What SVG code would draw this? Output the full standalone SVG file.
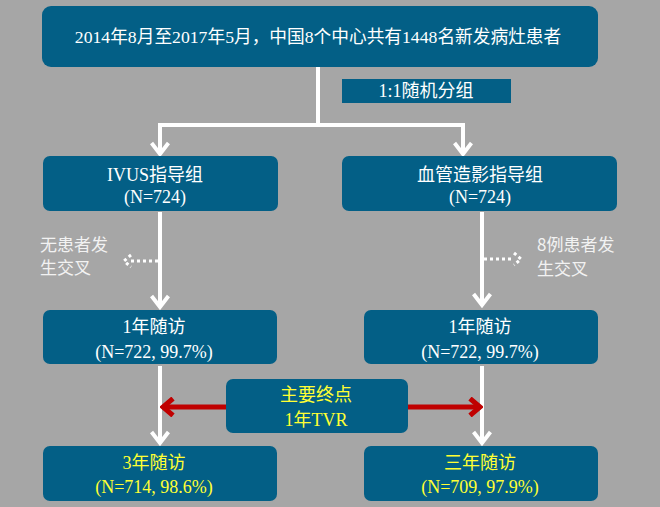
<svg xmlns="http://www.w3.org/2000/svg" width="660" height="507" viewBox="0 0 660 507">
<style>
.box{fill:#035f86;}
.t{font-family:"Liberation Serif","Noto Sans CJK SC",serif;font-size:18px;fill:#ffffff;text-anchor:middle;}
.y{fill:#ffff33;}
.side{font-family:"Noto Sans CJK SC","Liberation Sans",sans-serif;font-size:17px;fill:#f2f2f2;}
.w{stroke:#ffffff;stroke-width:4;fill:none;}
.dot{stroke:#ffffff;stroke-width:3;fill:none;stroke-dasharray:3 3;}
.red{stroke:#c00000;stroke-width:5;fill:none;}
</style>
<defs>
<marker id="wa" viewBox="0 0 20 20" refX="17" refY="10" markerWidth="20" markerHeight="20" markerUnits="userSpaceOnUse" orient="auto">
<path d="M6,1.5 L17,10 L6,18.5" stroke="#ffffff" stroke-width="4" fill="none"/>
</marker>
<marker id="ra" viewBox="0 0 20 20" refX="17" refY="10" markerWidth="20" markerHeight="20" markerUnits="userSpaceOnUse" orient="auto">
<path d="M7,1.5 L17,10 L7,18.5" stroke="#c00000" stroke-width="5" fill="none"/>
</marker>
</defs>
<rect width="660" height="507" fill="#a6a6a6"/>
<g id="connectors">
<path class="w" d="M318,67 V125 M160,125 H463"/>
<line class="w" x1="160" y1="123" x2="160" y2="154" marker-end="url(#wa)"/>
<line class="w" x1="463" y1="123" x2="463" y2="154" marker-end="url(#wa)"/>
<line class="w" x1="160" y1="212" x2="160" y2="307" marker-end="url(#wa)"/>
<line class="w" x1="482" y1="212" x2="482" y2="305" marker-end="url(#wa)"/>
<line class="w" x1="160" y1="366" x2="160" y2="443" marker-end="url(#wa)"/>
<line class="w" x1="482" y1="366" x2="482" y2="443" marker-end="url(#wa)"/>
<line class="dot" x1="158" y1="261" x2="131" y2="261"/>
<path class="dot" d="M131,255 L124,261 L131,267" stroke-dasharray="2 3"/>
<line class="dot" x1="484" y1="259" x2="513" y2="259"/>
<path class="dot" d="M514,253 L521,259 L514,265" stroke-dasharray="2 3"/>
<line class="red" x1="226" y1="407" x2="163" y2="407" marker-end="url(#ra)"/>
<line class="red" x1="408" y1="407" x2="480" y2="407" marker-end="url(#ra)"/>
</g>
<g id="top">
<rect class="box" x="42" y="6" width="556" height="61" rx="9"/>
<text class="t" x="318" y="43" style="font-size:17.7px">2014年8月至2017年5月，中国8个中心共有1448名新发病灶患者</text>
</g>
<g id="rand">
<rect class="box" x="342" y="79" width="169" height="24"/>
<text class="t" x="426" y="97">1:1随机分组</text>
</g>
<g id="ivus">
<rect class="box" x="43" y="156" width="235" height="55" rx="7"/>
<text class="t" x="155" y="181">IVUS指导组</text>
<text class="t" x="155" y="203">(N=724)</text>
</g>
<g id="angio">
<rect class="box" x="342" y="156" width="275" height="55" rx="7"/>
<text class="t" x="480" y="181">血管造影指导组</text>
<text class="t" x="480" y="203">(N=724)</text>
</g>
<g id="cross-left">
<text class="side" x="40" y="251">无患者发</text>
<text class="side" x="40" y="274">生交叉</text>
</g>
<g id="cross-right">
<text class="side" x="537" y="251">8例患者发</text>
<text class="side" x="537" y="275">生交叉</text>
</g>
<g id="fu1-left">
<rect class="box" x="43" y="310" width="234" height="54" rx="7"/>
<text class="t" x="154" y="333">1年随访</text>
<text class="t" x="154" y="358">(N=722, 99.7%)</text>
</g>
<g id="fu1-right">
<rect class="box" x="364" y="310" width="234" height="54" rx="7"/>
<text class="t" x="480" y="333">1年随访</text>
<text class="t" x="480" y="358">(N=722, 99.7%)</text>
</g>
<g id="endpoint">
<rect class="box" x="226" y="379" width="182" height="54" rx="7"/>
<text class="t y" x="316" y="401">主要终点</text>
<text class="t y" x="316" y="426">1年TVR</text>
</g>
<g id="fu3-left">
<rect class="box" x="43" y="446" width="234" height="55" rx="7"/>
<text class="t y" x="154" y="469">3年随访</text>
<text class="t y" x="154" y="493">(N=714, 98.6%)</text>
</g>
<g id="fu3-right">
<rect class="box" x="364" y="446" width="234" height="55" rx="7"/>
<text class="t y" x="480" y="469">三年随访</text>
<text class="t y" x="480" y="493">(N=709, 97.9%)</text>
</g>
</svg>
